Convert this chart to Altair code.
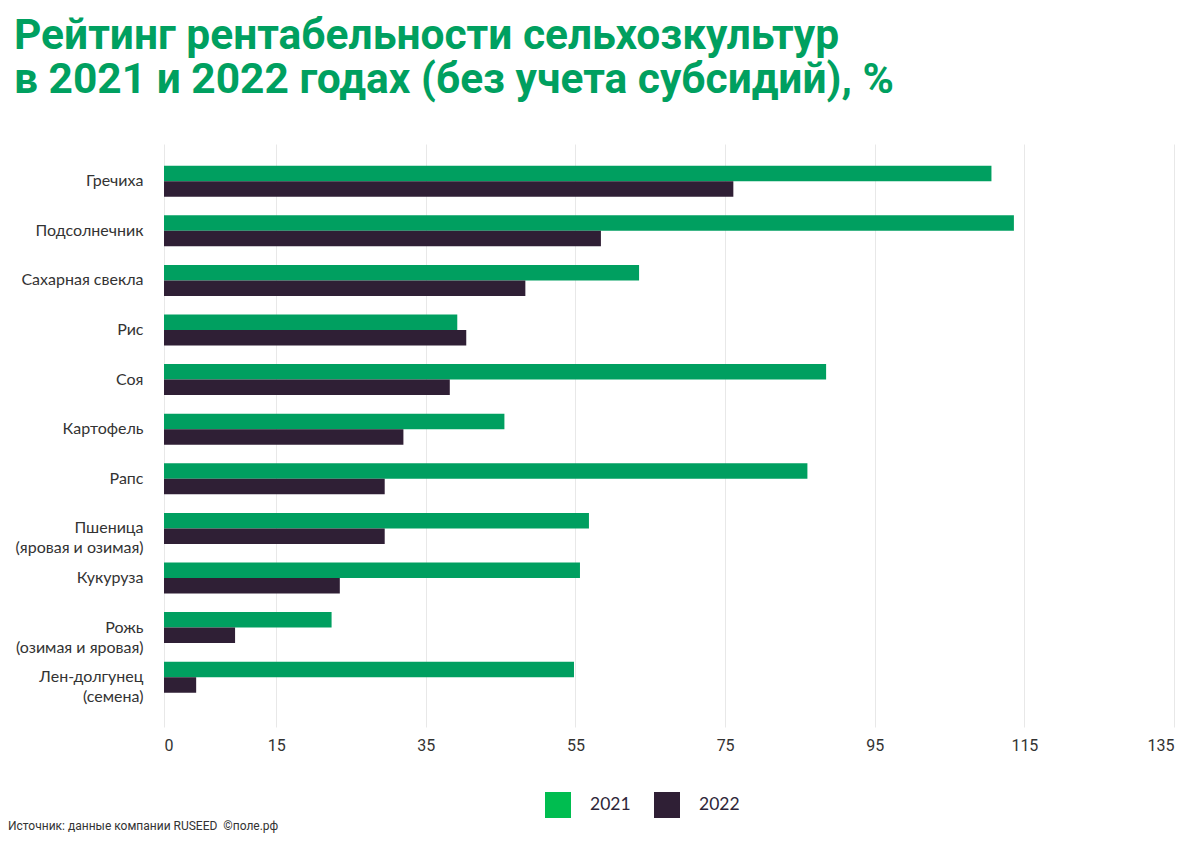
import altair as alt
import pandas as pd

crops = ["Гречиха", "Подсолнечник", "Сахарная свекла", "Рис", "Соя", "Картофель",
         "Рапс", "Пшеница |(яровая и озимая)", "Кукуруза", "Рожь|(озимая и яровая)",
         "Лен-долгунец |(семена)"]
v2021 = [110.6, 113.6, 63.5, 39.2, 88.5, 45.5, 86.0, 56.8, 55.6, 22.4, 54.8]
v2022 = [76.1, 58.4, 48.3, 40.4, 38.2, 32.0, 29.5, 29.5, 23.5, 9.5, 4.3]
years = ["2021", "2022"]
ticks = [0, 15, 35, 55, 75, 95, 115, 135]

bar_colors = ["#009f60", "#2f1f35"]
legend_colors = ["#00bd50", "#2f1f35"]

rows = []
for c, a, b in zip(crops, v2021, v2022):
    rows.append({"crop": c, "year": years[0], "value": a})
    rows.append({"crop": c, "year": years[1], "value": b})
df = pd.DataFrame(rows)

label_font = "Lato, 'Open Sans', sans-serif"
narrow_font = "'Liberation Sans Narrow', 'Roboto', sans-serif"

base = alt.Chart(df)

bars = base.mark_bar().encode(
    y=alt.Y("crop:N", sort=crops, title=None,
            scale=alt.Scale(paddingInner=0.375, paddingOuter=0.5645, align=0.3875),
            axis=alt.Axis(labelExpr="split(datum.label, '|')", labelFont=label_font,
                          labelFontSize=16, labelColor="#333333", labelPadding=21,
                          labelLineHeight=20, ticks=False, domain=False, grid=False)),
    yOffset=alt.YOffset("year:N", sort=years),
    x=alt.X("value:Q", title=None,
            scale=alt.Scale(domain=[0, 135], nice=False, zero=True),
            axis=alt.Axis(values=ticks, labelFont=narrow_font, labelFontSize=16,
                          labelColor="#333333", labelPadding=10, ticks=False,
                          domain=False, grid=True, gridColor="#e8e8e8", gridWidth=1)),
    color=alt.Color("year:N", scale=alt.Scale(range=bar_colors), legend=None),
)

legend_layer = base.transform_filter("false").mark_square(filled=True, opacity=1).encode(
    x=alt.X("value:Q"),
    y=alt.Y("crop:N", sort=crops),
    fill=alt.Fill("year:N", scale=alt.Scale(domain=years, range=legend_colors),
                  legend=alt.Legend(title=None, orient="none", legendX=381, legendY=648,
                                    direction="horizontal", symbolType="square",
                                    symbolSize=676, symbolStrokeWidth=0, symbolOpacity=1,
                                    labelFont=label_font, labelFontSize=17.5,
                                    labelColor="#2e2538", labelOffset=19,
                                    columnPadding=23, padding=0)),
)

source = alt.Chart(pd.DataFrame({"t": ["Источник: данные компании RUSEED\u00a0\u00a0©поле.рф"]})).mark_text(
    align="left", baseline="middle", font=narrow_font, fontSize=12, color="#333333"
).encode(x=alt.value(-156), y=alt.value(682), text="t:N")

chart = alt.layer(bars, legend_layer, source).properties(
    width=1010, height=583,
    autosize=alt.AutoSizeParams(type="none"),
    padding={"left": 156, "top": 136, "right": 8, "bottom": 120},
    title=alt.TitleParams(
        text=["Рейтинг рентабельности сельхозкультур", "в 2021 и 2022 годах (без учета субсидий), %"],
        anchor="start", frame="group", font="Roboto, sans-serif", fontSize=42.5, fontWeight="bold",
        color="#00a060", dx=-150, offset=43, lineHeight=44),
).configure_view(stroke=None)

chart.save("out.html", embed_options={"renderer": "svg", "actions": False})
